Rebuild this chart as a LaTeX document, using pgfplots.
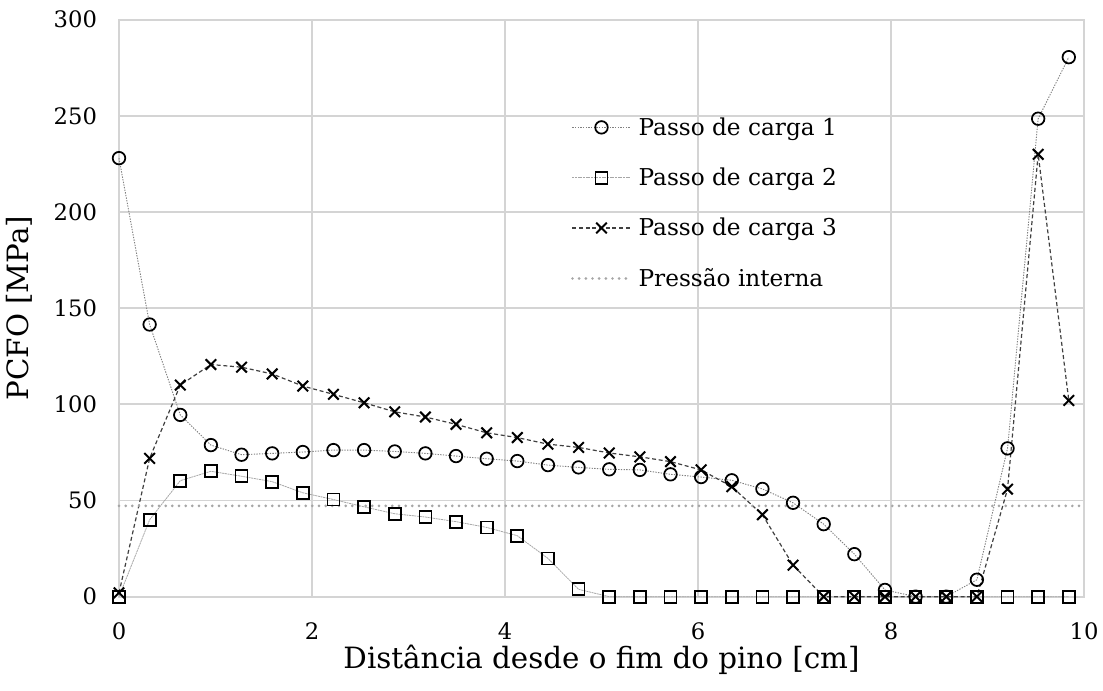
\documentclass[border=0pt]{standalone}
\usepackage{pgfplots}
\pgfplotsset{compat=1.18}
\usepackage{fontspec}
\setmainfont{DejaVu Serif}
\definecolor{gridc}{RGB}{212,212,212}
\begin{document}
\begin{tikzpicture}
\begin{axis}[
  scale only axis,
  width=723.75pt, height=432.75pt,
  xmin=0, xmax=10, ymin=0, ymax=300,
  xtick={0,2,...,10}, ytick={0,50,...,300},
  xticklabel={\pgfmathtruncatemacro\tk{\tick}\tk},
  yticklabel={\pgfmathtruncatemacro\tk{\tick}\tk},
  grid=major,
  major grid style={gridc, line width=1.3pt},
  axis line style={gridc, line width=1.3pt},
  tick style={draw=none},
  clip=false,
  ticklabel style={font=\fontsize{17}{20}\selectfont},
  yticklabel style={xshift=-13pt},
  xticklabel style={yshift=-16pt},
  xlabel={Distância desde o fim do pino [cm]},
  ylabel={PCFO [MPa]},
  label style={font=\fontsize{22}{26}\selectfont},
  xlabel style={yshift=3pt},
  ylabel style={yshift=9pt},
  legend cell align=left,
  legend style={at={(axis cs:4.64,252)}, anchor=north west, draw=none, fill=none,
    font=\fontsize{17.4}{20}\selectfont, row sep=19pt, column sep=3pt,
    nodes={inner sep=2pt}},
  legend image code/.code={\draw[mark repeat=2,mark phase=2,#1] plot coordinates {(0pt,0pt) (21.75pt,0pt) (43.5pt,0pt)};},
]
\addplot[gray, line width=0.7pt, dash pattern=on 1pt off 1pt, mark=o, mark size=4.7pt,
  mark options={solid, black, line width=1.3pt}] coordinates {
(0.0000,228) (0.3175,141.5) (0.6350,94.5) (0.9525,78.8) (1.2700,73.8) (1.5875,74.5)
(1.9050,75.2) (2.2225,76.2) (2.5400,76.2) (2.8575,75.5) (3.1750,74.5) (3.4925,73.1)
(3.8100,71.7) (4.1275,70.5) (4.4450,68.4) (4.7625,67.2) (5.0800,66.2) (5.3975,65.9)
(5.7150,63.6) (6.0325,62.2) (6.3500,60.5) (6.6675,56.0) (6.9850,48.8) (7.3025,37.7)
(7.6200,22.1) (7.9375,3.5) (8.2550,0) (8.5725,0) (8.8900,8.8) (9.2075,77.1)
(9.5250,248.5) (9.8425,280.5)};
\addlegendentry{Passo de carga 1}
\addplot[gray!70, line width=0.6pt, dash pattern=on 1.5pt off 0.5pt, mark=square, mark size=4.5pt,
  mark options={solid, black, line width=1.3pt}] coordinates {
(0.0000,0) (0.3175,40.0) (0.6350,60.3) (0.9525,65.2) (1.2700,62.6) (1.5875,59.8)
(1.9050,54.0) (2.2225,50.5) (2.5400,46.7) (2.8575,43.1) (3.1750,41.4) (3.4925,39.0)
(3.8100,36.0) (4.1275,31.7) (4.4450,19.9) (4.7625,3.8) (5.0800,0) (5.3975,0)
(5.7150,0) (6.0325,0) (6.3500,0) (6.6675,0) (6.9850,0) (7.3025,0)
(7.6200,0) (7.9375,0) (8.2550,0) (8.5725,0) (8.8900,0) (9.2075,0)
(9.5250,0) (9.8425,0)};
\addlegendentry{Passo de carga 2}
\addplot[black!75, line width=0.9pt, dash pattern=on 3pt off 2pt, mark=x, mark size=5.6pt,
  mark options={solid, black, line width=1.5pt}] coordinates {
(0.0000,2) (0.3175,71.9) (0.6350,110.0) (0.9525,120.7) (1.2700,119.3) (1.5875,115.8)
(1.9050,109.5) (2.2225,105.2) (2.5400,100.8) (2.8575,96.1) (3.1750,93.4) (3.4925,89.6)
(3.8100,85.2) (4.1275,82.7) (4.4450,79.3) (4.7625,77.6) (5.0800,74.7) (5.3975,72.7)
(5.7150,70.2) (6.0325,65.9) (6.3500,57.2) (6.6675,42.6) (6.9850,16.4) (7.3025,0)
(7.6200,0) (7.9375,0) (8.2550,0) (8.5725,0) (8.8900,0) (9.2075,55.9)
(9.5250,230.0) (9.8425,102.0)};
\addlegendentry{Passo de carga 3}
\addplot[gray!70, line width=2.2pt, line cap=round, dash pattern=on 0pt off 5pt] coordinates {
(0,47.2) (10,47.2)};
\addlegendentry{Pressão interna}
\end{axis}
\pgfresetboundingbox
\path[use as bounding box] ([shift={(-89.25pt,-70.7pt)}]current axis.south west) rectangle ([shift={(738pt,447.5pt)}]current axis.south west);
\end{tikzpicture}
\end{document}
